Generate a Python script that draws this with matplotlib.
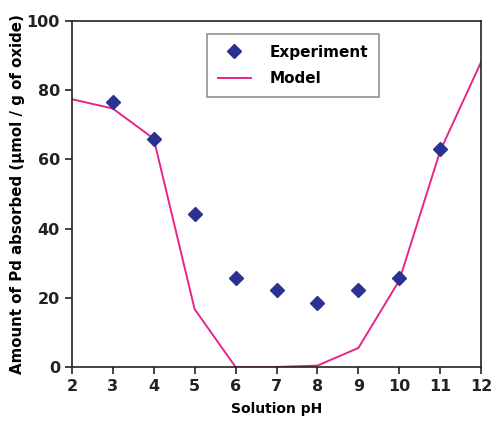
import numpy as np
import matplotlib
matplotlib.use("Agg")
import matplotlib.pyplot as plt

plt.rcParams['font.family'] = ['DejaVu Sans']
plt.rcParams['font.weight'] = 'bold'

# measured adsorption of Pd vs pH
ph_exp = [3, 4, 5, 6, 7, 8, 9, 10, 11]
pd_exp = [76.6, 66.0, 44.3, 25.7, 22.2, 18.6, 22.2, 25.8, 63.0]

# model curve
ph_model = [2, 3, 4, 5, 6, 7, 8, 9, 10, 11, 12]
pd_model = [77.4, 74.7, 66.0, 16.7, 0.0, 0.0, 0.4, 5.5, 25.0, 62.5, 88.2]

fig = plt.figure(figsize=(4.92, 4.25), dpi=100)
ax = fig.add_axes([0.146, 0.1365, 0.832, 0.8141])

ax.plot(ph_model, pd_model, color='#E8248C', lw=1.4, label='Model', zorder=2)
ax.plot(ph_exp, pd_exp, linestyle='none', marker='D', ms=7.5, color='#2B3190',
        label='Experiment', zorder=3)

ax.set_xlim(2, 12)
ax.set_ylim(0, 100)
ax.set_xticks(range(2, 13))
ax.set_yticks(range(0, 101, 20))
ax.tick_params(axis='both', labelsize=11.5, width=1.2, length=5, colors='#222222')
for s in ax.spines.values():
    s.set_linewidth(1.2)
    s.set_color('#222222')

ax.set_xlabel('Solution pH', fontsize=10, fontweight='bold', labelpad=6)
ax.set_ylabel('Amount of Pd absorbed (\u00b5mol / g of oxide)', fontsize=10.8,
              fontweight='bold', labelpad=1)

handles, labels = ax.get_legend_handles_labels()
leg = ax.legend(handles[::-1], labels[::-1], loc='upper left',
                bbox_to_anchor=(0.33, 0.962), borderaxespad=0, fontsize=11,
                frameon=True, fancybox=False, edgecolor='#777777',
                handlelength=2.2, borderpad=0.7, labelspacing=0.75,
                handletextpad=1.2)
leg.get_frame().set_linewidth(1.2)

fig.savefig('out.png', dpi=100)
